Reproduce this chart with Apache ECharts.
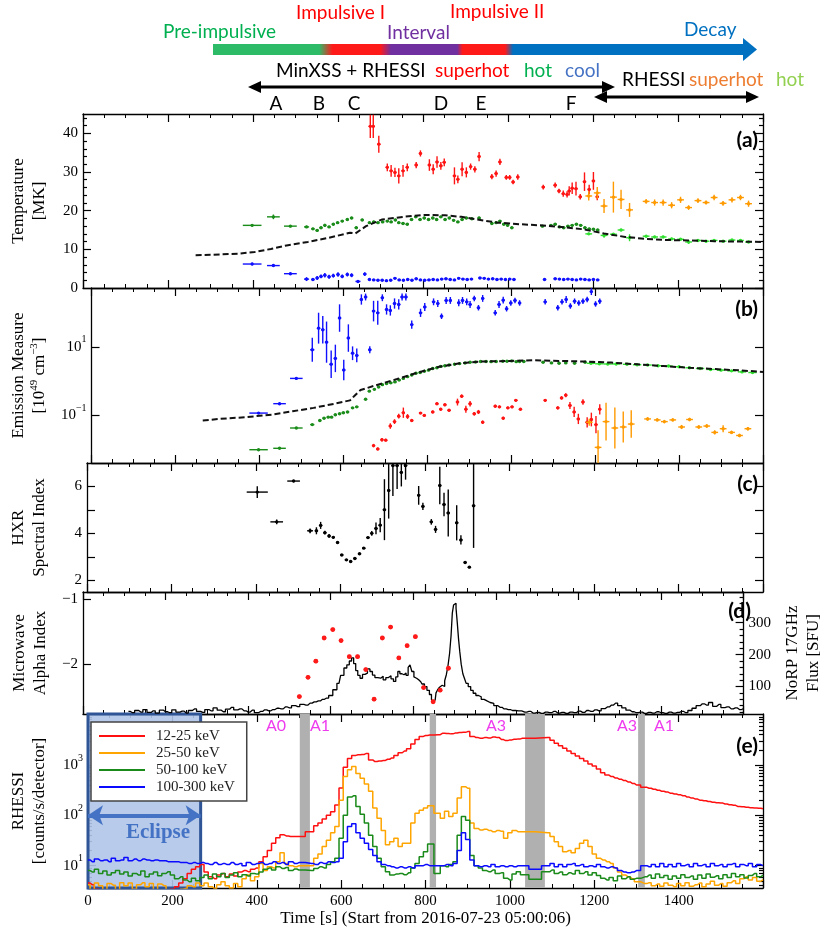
<!DOCTYPE html>
<html>
<head>
<meta charset="utf-8">
<script src="https://cdn.jsdelivr.net/npm/echarts@6.0.0/dist/echarts.min.js"></script>
<style>
  html, body { margin: 0; padding: 0; background: #fff; }
  #chart { width: 832px; height: 928px; }
</style>
</head>
<body>
<div id="chart"></div>
<script>
// ===== data =====
// time axis ticks (s)
var timeTicks = [0, 200, 400, 600, 800, 1000, 1200, 1400];

// (a) temperature [t, MK, dt, dMK]
var tempSuperhot = [[676,41.8,4,3.0],[683,41.8,4,3.0],[696,37.2,4,2.2],[716,31.2,4,1.0],[725,30.3,4,1.5],[734,29.9,4,1.2],[743,29.0,4,2.0],[753,30.3,4,1.5],[763,31.2,4,1.0],[784,31.8,4,0.8],[794,34.8,4,0.8],[815,31.8,4,1.5],[824,30.7,4,1.3],[833,32.6,4,1.5],[842,31.6,4,1.0],[850,32.5,4,1.0],[874,29.0,4,2.2],[882,28.1,4,1.0],[892,30.7,4,1.8],[902,29.9,4,1.3],[912,31.4,4,0.8],[922,30.7,4,0.8],[932,34.0,4,1.2],[962,28.8,4,0.7],[972,29.6,4,0.8],[981,32.6,4,0.8],[996,28.6,4,0.6],[1004,28.6,4,0.6],[1012,27.4,4,0.6],[1023,28.7,4,0.7],[1083,26.1,4,0.6],[1111,26.6,4,0.7],[1120,25.1,4,0.6],[1130,24.4,4,0.8],[1139,24.2,4,0.8],[1144,25.1,4,1.2],[1151,25.8,4,1.5],[1160,25.7,4,1.8],[1170,23.6,4,0.7],[1180,27.5,4,2.4],[1191,25.5,4,1.2],[1201,27.7,4,2.3],[1210,23.6,4,0.9]];
var tempSuperhotR = [[1190,23.8,8,1.2],[1210,24.6,8,1.5],[1226,21.2,8,1.8],[1248,23.5,8,4.0],[1266,22.9,8,2.5],[1286,20.2,8,1.8],[1325,22.4,8,0.6],[1345,22.1,8,0.8],[1365,22.1,8,0.8],[1385,21.4,8,0.8],[1406,22.8,8,0.8],[1425,20.8,8,0.6],[1447,22.6,8,0.6],[1466,22.1,8,0.5],[1485,23.4,8,0.7],[1506,21.9,8,0.6],[1527,22.8,8,0.7],[1547,23.4,8,0.7],[1566,21.8,8,0.8]];
var tempHot = [[398,16.2,22,0.3],[448,18.4,15,0.6],[488,16.0,15,0.3],[526,15.8,6,0.3],[541,15.3,4,0.3],[551,14.9,4,0.3],[560,15.6,4,0.3],[569,16.2,4,0.4],[579,15.8,4,0.3],[589,16.5,4,0.3],[599,16.9,4,0.3],[610,17.3,4,0.3],[622,17.7,4,0.3],[632,18.1,4,0.3],[643,15.6,4,0.3],[657,17.6,4,0.3],[674,16.9,4,0.3],[684,17.1,4,0.3],[694,16.9,4,0.3],[705,17.1,4,0.3],[716,17.3,4,0.3],[725,17.1,4,0.3],[735,17.6,4,0.3],[743,16.9,4,0.3],[753,16.7,4,0.3],[763,16.5,4,0.3],[773,17.7,4,0.3],[783,18.4,4,0.3],[793,17.7,4,0.3],[803,18.1,4,0.3],[813,17.7,4,0.3],[823,18.1,4,0.3],[832,17.7,4,0.3],[842,18.4,4,0.3],[852,17.7,4,0.3],[862,18.1,4,0.3],[872,17.5,4,0.3],[882,17.1,4,0.3],[892,17.7,4,0.3],[902,18.1,4,0.3],[915,17.9,4,0.3],[932,18.1,4,0.3],[962,16.7,4,0.3],[972,16.9,4,0.3],[981,17.3,4,0.3],[990,16.5,4,0.3],[999,16.2,4,0.3],[1009,15.6,4,0.3],[1081,16.0,4,0.3],[1101,16.2,4,0.3],[1111,16.5,4,0.3],[1121,15.8,4,0.3],[1131,15.6,4,0.3],[1141,16.0,4,0.3],[1151,16.2,4,0.3],[1161,16.5,4,0.3],[1171,16.2,4,0.3],[1181,15.6,4,0.3],[1191,15.3,4,0.3],[1201,15.2,4,0.3],[1211,15.0,4,0.3]];
var tempHotR = [[1190,14.0,8,0.3],[1226,13.6,8,0.6],[1248,13.9,8,0.3],[1266,15.0,8,0.3],[1286,13.0,8,0.9],[1325,13.4,8,0.3],[1345,13.2,8,0.3],[1365,13.2,8,0.3],[1385,12.7,8,0.3],[1406,12.6,8,0.3],[1425,11.9,8,0.5],[1447,12.3,8,0.3],[1466,12.1,8,0.3],[1485,12.3,8,0.3],[1506,12.1,8,0.3],[1527,12.4,8,0.3],[1547,12.3,8,0.3],[1566,11.9,8,0.3]];
var tempCool = [[398,6.2,22,0.3],[448,5.8,15,0.3],[488,3.7,15,0.3],[526,2.3,6,0.5],[541,2.2,4,0.3],[551,2.6,4,0.5],[560,3.0,4,0.5],[569,3.3,4,0.6],[579,2.9,4,0.5],[589,3.2,4,0.5],[600,3.5,4,0.6],[610,3.0,4,0.5],[622,3.5,4,0.5],[632,3.3,4,0.5],[647,1.7,6,0.2],[663,3.6,4,0.5],[674,2.2,4,0.2],[684,2.1,4,0.1],[694,2.0,4,0.1],[704,2.0,4,0.1],[714,1.9,4,0.1],[724,2.0,4,0.1],[734,2.5,4,0.1],[744,2.1,4,0.1],[754,2.0,4,0.1],[764,2.2,4,0.1],[774,2.0,4,0.1],[784,2.4,4,0.1],[794,2.1,4,0.1],[804,2.0,4,0.1],[814,2.1,4,0.1],[824,2.2,4,0.1],[834,2.1,4,0.1],[844,2.3,4,0.1],[854,2.4,4,0.1],[864,2.2,4,0.1],[874,2.1,4,0.1],[884,2.5,4,0.1],[894,2.3,4,0.1],[904,2.2,4,0.1],[914,2.3,4,0.1],[934,2.6,4,0.1],[944,2.5,4,0.1],[954,2.3,4,0.1],[964,2.4,4,0.1],[974,2.2,4,0.1],[984,2.3,4,0.1],[994,2.2,4,0.1],[1004,2.3,4,0.1],[1014,2.2,4,0.1],[1086,2.2,4,0.1],[1111,2.4,4,0.1],[1121,2.3,4,0.1],[1131,2.2,4,0.1],[1141,2.3,4,0.1],[1151,2.2,4,0.1],[1161,2.1,4,0.1],[1171,2.3,4,0.1],[1181,2.2,4,0.1],[1191,2.1,4,0.1],[1201,2.2,4,0.1],[1211,2.1,4,0.1]];
var tempModel = [[265,8.5],[305,8.6],[367,8.9],[404,9.3],[442,10.1],[479,11.0],[529,11.9],[579,13.0],[628,14.3],[641,14.1],[666,16.0],[703,17.7],[753,18.4],[803,18.9],[852,18.8],[890,18.4],[927,17.7],[977,16.9],[1027,16.5],[1076,16.2],[1126,15.8],[1176,15.2],[1226,14.1],[1276,13.2],[1325,12.7],[1375,12.4],[1425,12.3],[1487,12.1],[1549,12.0],[1600,11.9]];

// (b) emission measure [t, 1e49 cm^-3, dt, error in dex]
var emCool = [[398,0.117,22,0.02],[448,0.22,15,0.03],[488,1.2,15,0.04],[526,8.2,5,0.35],[541,35,4,0.45],[551,31.6,4,0.4],[560,13.7,4,0.6],[571,3.1,4,0.4],[581,4.6,4,0.4],[591,69,4,0.4],[601,2.1,4,0.3],[612,18,4,0.4],[622,6.5,4,0.2],[632,5.6,4,0.2],[643,240,4,0.15],[653,283,4,0.1],[663,8.2,4,0.1],[672,110,4,0.3],[682,98,4,0.35],[693,270,4,0.1],[703,123,4,0.15],[712,115,4,0.15],[722,183,4,0.15],[732,172,4,0.15],[740,283,4,0.1],[749,283,4,0.1],[763,44.5,4,0.12],[784,98,4,0.12],[794,145,4,0.12],[815,205,4,0.1],[825,183,4,0.1],[834,78,4,0.08],[845,225,4,0.1],[855,225,4,0.1],[875,193,4,0.1],[884,225,4,0.1],[894,205,4,0.1],[902,172,4,0.1],[912,258,4,0.08],[922,138,4,0.08],[932,258,4,0.1],[962,98,4,0.08],[971,172,4,0.1],[981,229,4,0.1],[989,129,4,0.08],[999,190,4,0.08],[1009,225,4,0.08],[1020,190,4,0.08],[1081,205,4,0.08],[1111,138,4,0.08],[1121,205,4,0.08],[1131,240,4,0.1],[1141,155,4,0.08],[1151,214,4,0.08],[1161,190,4,0.08],[1171,214,4,0.08],[1181,240,4,0.08],[1191,407,4,0.1],[1201,178,4,0.08],[1211,214,4,0.08]];
var emHot = [[398,0.010,22,0.02],[448,0.011,15,0.02],[488,0.043,15,0.02],[526,0.054,5,0.02],[544,0.071,4,0.02],[554,0.083,4,0.02],[564,0.089,4,0.02],[572,0.089,4,0.02],[581,0.105,4,0.02],[591,0.112,4,0.02],[600,0.12,4,0.02],[610,0.126,4,0.02],[622,0.166,4,0.02],[632,0.178,4,0.02],[653,0.295,4,0.02],[662,0.51,4,0.02],[674,0.575,4,0.02],[684,0.676,4,0.02],[693,0.79,4,0.02],[703,0.85,4,0.02],[713,0.89,4,0.02],[723,0.95,4,0.02],[733,1.07,4,0.02],[743,1.2,4,0.02],[753,1.35,4,0.02],[763,1.51,4,0.02],[773,1.7,4,0.02],[783,1.78,4,0.02],[793,1.95,4,0.02],[803,2.09,4,0.02],[813,2.34,4,0.02],[823,2.45,4,0.02],[832,2.69,4,0.02],[842,2.82,4,0.02],[852,2.95,4,0.02],[865,3.09,4,0.02],[877,3.24,4,0.02],[890,3.39,4,0.02],[902,3.55,4,0.02],[915,3.6,4,0.02],[927,3.72,4,0.02],[940,3.75,4,0.02],[952,3.7,4,0.02],[964,3.72,4,0.02],[980,3.8,4,0.02],[990,3.8,4,0.02],[1001,3.89,4,0.02],[1012,3.7,4,0.02],[1020,3.75,4,0.02],[1030,3.72,4,0.02],[1076,3.55,4,0.02],[1096,3.4,4,0.02],[1114,3.31,4,0.02],[1130,3.4,4,0.02],[1151,3.31,4,0.02],[1176,3.55,4,0.02],[1195,3.5,4,0.02],[1211,3.47,4,0.02]];
var emHotR = [[1190,3.31,10,0.01],[1210,3.2,10,0.01],[1230,3.16,10,0.01],[1250,3.16,10,0.01],[1276,3.09,10,0.01],[1300,3.0,10,0.01],[1325,2.95,10,0.01],[1350,2.82,10,0.01],[1375,2.75,10,0.01],[1400,2.63,10,0.01],[1425,2.45,10,0.01],[1450,2.34,10,0.01],[1475,2.19,10,0.01],[1500,2.09,10,0.01],[1525,1.99,10,0.01],[1550,1.86,10,0.01],[1575,1.78,10,0.01]];
var emSuperhot = [[672,0.0132,4,0.05],[682,0.0105,4,0.04],[692,0.0195,4,0.05],[701,0.019,4,0.04],[712,0.049,4,0.08],[722,0.066,4,0.07],[732,0.095,4,0.07],[743,0.12,4,0.15],[753,0.093,4,0.07],[763,0.071,4,0.04],[784,0.117,4,0.03],[793,0.1,4,0.03],[813,0.126,4,0.04],[823,0.219,4,0.04],[832,0.151,4,0.04],[842,0.204,4,0.04],[852,0.141,4,0.04],[872,0.245,4,0.1],[882,0.363,4,0.05],[892,0.151,4,0.1],[902,0.219,4,0.08],[912,0.112,4,0.05],[922,0.126,4,0.06],[932,0.063,4,0.05],[962,0.186,4,0.04],[972,0.178,4,0.04],[981,0.083,4,0.04],[992,0.166,4,0.04],[1002,0.178,4,0.04],[1011,0.275,4,0.03],[1022,0.151,4,0.04],[1081,0.275,4,0.04],[1111,0.166,4,0.05],[1120,0.324,4,0.05],[1130,0.389,4,0.06],[1140,0.195,4,0.1],[1150,0.126,4,0.15],[1160,0.079,4,0.15],[1171,0.245,4,0.08],[1181,0.063,4,0.15],[1191,0.076,4,0.2],[1202,0.054,4,0.25],[1211,0.151,4,0.15]];
var emSuperhotR = [[1186,0.063,8,0.1],[1207,0.0117,8,0.5],[1226,0.066,8,0.55],[1247,0.043,8,0.6],[1267,0.046,8,0.45],[1286,0.056,8,0.4],[1325,0.079,8,0.05],[1348,0.074,8,0.05],[1365,0.066,8,0.05],[1385,0.074,8,0.05],[1406,0.046,8,0.06],[1425,0.076,8,0.05],[1447,0.046,8,0.05],[1466,0.049,8,0.05],[1485,0.032,8,0.06],[1505,0.041,8,0.1],[1525,0.032,8,0.05],[1544,0.026,8,0.05],[1564,0.041,8,0.05]];
var emModel = [[265,0.071],[305,0.079],[367,0.089],[429,0.105],[479,0.132],[529,0.166],[579,0.219],[616,0.275],[628,0.389],[641,0.55],[678,0.76],[728,1.15],[778,1.78],[828,2.63],[877,3.31],[927,3.72],[1001,3.89],[1051,4.07],[1114,3.89],[1176,3.72],[1238,3.47],[1300,3.09],[1363,2.75],[1425,2.45],[1487,2.24],[1549,2.04],[1600,1.86]];

// (c) HXR spectral index [t, gamma, dt, dgamma]
var hxrIndex = [[403,5.76,25,0.25],[449,4.49,15,0.1],[489,6.23,15,0.05],[528,4.11,7,0.1],[543,4.11,4,0.15],[553,4.34,4,0.15],[563,4.03,4,0.08],[573,3.89,4,0.08],[583,3.83,4,0.06],[593,3.61,4,0.06],[603,3.08,4,0.04],[614,2.87,4,0.04],[624,2.80,4,0.04],[634,2.93,4,0.04],[645,3.13,4,0.04],[655,3.37,4,0.04],[665,3.82,4,0.05],[674,4.0,4,0.1],[684,4.21,4,0.25],[694,4.35,4,0.3],[704,5.01,4,1.3],[714,5.83,4,1.2],[724,6.89,4,1.3],[734,6.89,4,1.0],[744,6.6,4,0.6],[754,6.89,4,0.6],[785,5.62,4,0.4],[795,5.15,4,0.15],[815,4.49,4,0.12],[825,4.17,4,0.15],[835,6.04,4,0.8],[845,5.23,4,0.5],[855,4.87,4,1.0],[875,4.45,4,0.75],[885,3.72,4,0.2],[895,2.76,4,0.05],[905,2.56,4,0.05],[915,5.18,4,1.8]];

// (d) microwave alpha index [t, alpha, dt, dalpha] and NoRP 17 GHz flux [t, SFU]
var alphaIndex = [[524,-2.51,5,0.03],[545,-2.21,5,0.03],[564,-1.96,5,0.03],[584,-1.60,5,0.03],[605,-1.47,5,0.03],[625,-1.64,5,0.03],[645,-1.89,5,0.03],[665,-1.89,5,0.03],[685,-2.09,5,0.03],[705,-2.55,5,0.03],[725,-1.60,5,0.03],[745,-1.43,5,0.03],[765,-1.91,5,0.03],[785,-1.72,5,0.03],[805,-1.58,5,0.03],[825,-2.37,5,0.03],[848,-2.59,5,0.03],[865,-2.41,5,0.03],[885,-2.07,5,0.03]];
var norpFlux = [[110,22],[120,18],[130,25],[140,20],[150,28],[160,19],[170,24],[180,17],[190,26],[200,21],[210,18],[220,27],[230,20],[240,23],[250,17],[260,25],[270,30],[280,22],[290,19],[300,28],[310,24],[320,33],[330,26],[340,21],[350,29],[360,35],[370,27],[380,30],[390,24],[400,20],[410,26],[420,18],[430,22],[440,27],[450,24],[460,28],[470,32],[480,30],[490,36],[500,33],[510,40],[520,37],[530,44],[540,42],[550,48],[560,52],[570,55],[580,60],[590,64],[600,72],[610,90],[620,110],[628,135],[636,158],[642,168],[648,180],[653,190],[658,172],[663,150],[668,135],[674,126],[680,138],[686,142],[692,155],[698,147],[704,136],[710,128],[718,126],[724,132],[730,121],[737,128],[743,134],[749,124],[755,116],[760,130],[765,147],[770,140],[775,137],[780,142],[785,135],[790,160],[794,168],[799,147],[804,130],[808,126],[813,121],[818,115],[824,108],[830,100],[836,88],[842,75],[846,60],[849,52],[853,58],[857,80],[861,90],[866,98],[870,104],[874,100],[878,118],[882,137],[886,165],[890,205],[893,260],[896,330],[899,355],[902,361],[905,345],[908,300],[911,250],[914,210],[918,170],[922,140],[926,125],[930,110],[936,100],[942,88],[948,79],[955,72],[961,68],[968,60],[975,55],[982,50],[990,47],[1000,40],[1010,35],[1020,30],[1030,28],[1040,25],[1055,24],[1070,20],[1080,22],[1090,17],[1100,19],[1110,16],[1120,20],[1130,18],[1140,22],[1150,17],[1160,19],[1170,16],[1180,20],[1190,18],[1200,23],[1210,19],[1220,25],[1230,22],[1240,27],[1250,24],[1260,31],[1270,36],[1280,42],[1290,48],[1300,40],[1310,33],[1320,26],[1330,21],[1340,18],[1350,20],[1360,16],[1370,19],[1380,17],[1390,21],[1400,18],[1410,16],[1420,20],[1430,17],[1440,19],[1450,22],[1460,18],[1470,25],[1480,32],[1490,40],[1500,46],[1510,42],[1520,50],[1530,38],[1540,44],[1550,34],[1560,36],[1570,30],[1580,33],[1590,28],[1600,31]];

// (e) RHESSI count rates, 10 s bins; null inside the attenuator gaps
var rhessiTime = [0,10,20,30,40,50,60,70,80,90,100,110,120,130,140,150,160,170,180,190,200,210,220,230,240,250,260,270,280,290,300,310,320,330,340,350,360,370,380,390,400,410,420,430,440,450,460,470,480,490,500,510,520,530,540,550,560,570,580,590,600,610,620,630,640,650,660,670,680,690,700,710,720,730,740,750,760,770,780,790,800,810,820,830,840,850,860,870,880,890,900,910,920,930,940,950,960,970,980,990,1000,1010,1020,1030,1040,1050,1060,1070,1080,1090,1100,1110,1120,1130,1140,1150,1160,1170,1180,1190,1200,1210,1220,1230,1240,1250,1260,1270,1280,1290,1300,1310,1320,1330,1340,1350,1360,1370,1380,1390,1400,1410,1420,1430,1440,1450,1460,1470,1480,1490,1500,1510,1520,1530,1540,1550,1560,1570,1580,1590,1600];
var rhessi12 = [4.5,4.2,3.4,3.2,3.0,3.1,2.9,3.0,3.2,3.0,
  2.9,3.1,3.0,2.8,3.0,3.1,2.9,3.0,3.2,3.1,
  3.4,3.8,4.5,5.5,7.0,8.5,9.5,10.5,7.5,6.0,
  5.5,6.5,7.0,6.0,6.8,6.2,7.5,8.0,7.6,8.5,
  9.0,12,15,20,28,36,41,39,38,38,
  38,null,null,47,62,70,85,100,118,160,
  350,900,1350,1550,1600,1620,1700,1260,1170,1200,
  1230,1300,1380,1550,1750,1900,2100,2600,3200,3700,
  3850,3950,null,4000,4250,4200,4150,4300,4400,4450,
  4600,3700,3500,3400,3500,3450,3600,3500,3200,3050,
  3150,3250,3300,3400,null,null,null,null,null,3500,
  3100,2700,2400,2150,1900,1700,1500,1350,1200,1050,
  950,830,700,630,590,550,520,490,460,430,
  400,null,360,345,330,315,300,290,275,265,
  255,245,230,220,210,200,195,188,182,178,
  175,168,162,158,150,148,145,142,140,138,
  135];
var rhessi25 = [4.2,3.2,4.5,4.0,3.0,4.4,4.1,3.3,4.6,4.0,
  4.5,3.4,4.2,4.6,3.8,4.4,3.1,4.3,4.0,3.3,
  3.0,3.2,3.4,3.5,4.0,3.8,4.5,4.0,4.5,3.8,
  3.5,4.2,4.8,4.0,3.6,4.4,3.8,5.5,6.5,5.0,
  6.0,11,8.0,9.5,9.0,12,18,11,10,9.5,
  10,null,null,10,14,17,24,32,45,60,
  200,590,800,930,680,545,420,300,140,87,
  50,26,30,35,24,28,28,70,110,126,
  140,155,null,110,87,120,95,110,220,370,
  345,70,55,51,53,50,47,50,48,35,
  45,50,47,47,null,null,null,null,null,45,
  38,30,24,19,20,18,22,28,32,24,
  17,14,13,12,11,9.0,7.5,6.5,6.0,5.5,
  4.8,null,4.4,4.6,4.0,4.3,3.9,4.5,4.1,3.8,
  4.4,4.0,4.6,3.9,4.2,4.5,3.8,4.3,4.9,4.1,
  4.4,3.9,4.6,5.0,4.4,5.5,6.0,5.2,5.8,4.9,
  5.3];
var rhessi50 = [8.0,7.5,8.5,7.0,7.8,6.5,7.2,8.0,6.8,7.5,
  6.2,7.0,6.5,7.8,6.0,6.8,7.5,6.3,7.0,7.6,
  6.5,5.5,6.0,5.2,4.8,5.6,5.0,5.8,6.5,5.5,
  6.8,6.0,7.0,5.8,6.5,7.2,6.0,6.6,6.2,7.0,
  6.8,7.5,8.5,9.0,8.2,9.5,8.8,9.2,8.0,8.6,
  8.2,null,null,8.0,8.8,9.5,9.0,10.5,12,14,
  35,100,230,245,150,105,70,40,24,14,
  9.5,7.6,6.5,6.8,7.0,6.6,7.2,9.0,11,15,
  19,27,null,7.0,10,9.5,10.5,12,40,95,
  80,16,10,9.0,8.0,7.6,8.2,7.0,7.2,5.6,
  5.2,6.8,7.6,6.6,null,null,5.4,null,null,7.6,
  8.2,7.0,7.5,6.6,7.2,6.8,8.0,7.0,7.6,6.5,
  7.2,6.4,5.6,5.2,5.8,5.0,6.2,5.5,6.0,5.4,
  5.6,null,6.0,6.5,5.6,6.8,5.8,6.4,5.4,6.2,
  5.6,6.6,5.8,6.2,5.4,6.5,5.6,6.8,5.9,6.3,
  5.5,6.6,5.8,7.0,6.0,6.6,5.7,6.4,7.0,6.0,
  6.5];
var rhessi100 = [13,12,13.5,12.5,13,12,14,12.5,13,14.5,
  12.5,13.5,12.5,13.5,13,12.5,13,12.5,12.5,12,
  12,12,11.5,11.5,11,11.5,11,11.5,11,10.5,
  11.5,10.5,11,10.5,11.5,10.5,11,10,11.5,10.5,
  11,11.5,10.5,11,12,11,11.5,10.5,12,11,
  11.5,null,null,11,10.5,11.5,11,12,11.5,12,
  14,30,60,68,45,35,28,21,16,12,
  10.5,10,9.5,9,9.5,9,9.5,9,10,10,
  10.5,10,null,10,10,10.5,10,11,20,45,
  33,13,10,9.5,10,9.5,10.5,9.5,10,9.5,
  10,9.5,10,10,null,null,8.5,null,null,10,
  11,9.5,10.5,9.5,10.5,11,10,10.5,9.5,10,
  9.5,10.5,9.5,9,9.5,9,8,7.5,7.2,7.5,
  8,null,10,9.5,10.5,9.5,11,9.5,10.5,9.5,
  11,10,10.5,9.5,11,10,10.5,9.5,11,10,
  10.5,9.5,10.5,11,9.5,10.5,10,11,9.5,10.5,
  10];
var rhessiNames = ['12-25 keV', '25-50 keV', '50-100 keV', '100-300 keV'];
var rhessiColors = ['#ff1010', '#ffa500', '#1a8a1a', '#0a0aff'];

// attenuator / gap intervals and eclipse (s)
var gapBands = [[502, 526], [810, 825], [1036, 1083], [1304, 1320]];
var eclipseSpan = [0, 267];

// ===== chart =====
var SERIF = 'Liberation Serif';
var SANS = 'Lato';
var myChart = echarts.init(document.getElementById('chart'));

// error-bar cross renderer, linear or log y
function errRender(logY, dot, lw) {
  return function (params, api) {
    var t = api.value(0), v = api.value(1), dt = api.value(2), dv = api.value(3);
    var lo = logY ? v / Math.pow(10, dv) : v - dv;
    var hi = logY ? v * Math.pow(10, dv) : v + dv;
    var c = api.coord([t, v]);
    var pl = api.coord([t - dt, v]);
    var pr = api.coord([t + dt, v]);
    var pb = api.coord([t, lo]);
    var pt = api.coord([t, hi]);
    var color = api.visual('color');
    var st = { stroke: color, lineWidth: lw || 1.4 };
    return {
      type: 'group',
      children: [
        { type: 'line', shape: { x1: pl[0], y1: c[1], x2: pr[0], y2: c[1] }, style: st },
        { type: 'line', shape: { x1: c[0], y1: pb[1], x2: c[0], y2: pt[1] }, style: st },
        { type: 'circle', shape: { cx: c[0], cy: c[1], r: dot || 1.7 }, style: { fill: color } }
      ]
    };
  };
}

function errSeries(data, color, xi, yi, logY, dot, lw) {
  return {
    type: 'custom', xAxisIndex: xi, yAxisIndex: yi, data: data, clip: true, z: 3,
    encode: { x: 0, y: 1 }, itemStyle: { color: color },
    renderItem: errRender(logY, dot, lw), silent: true
  };
}

var grids = [
  { top: 114, height: 174 },
  { top: 288, height: 175 },
  { top: 463, height: 129 },
  { top: 592, height: 122 },
  { top: 714, height: 174 }
];

var lineStyleAx = { color: '#000', width: 1.3 };
var tickStyle = { color: '#000', width: 1.2 };

function xAxisFor(g, pos) {
  var withLabels = (g === 4 && pos === 'bottom');
  var ax = {
    type: 'value', gridIndex: g, position: pos, min: 0, max: 1600, interval: 200,
    axisLine: { show: true, onZero: false, lineStyle: lineStyleAx },
    axisTick: { show: true, inside: true, length: 8, lineStyle: tickStyle },
    minorTick: { show: true, splitNumber: 4, length: 4, lineStyle: { color: '#000', width: 1 } },
    axisLabel: {
      show: withLabels, customValues: timeTicks, formatter: function (v) { return String(v); },
      fontFamily: SERIF, fontSize: 15, color: '#000', margin: 6
    },
    splitLine: { show: false }
  };
  if (withLabels) {
    ax.name = 'Time [s] (Start from 2016-07-23 05:00:06)';
    ax.nameLocation = 'middle';
    ax.nameGap = 21;
    ax.nameTextStyle = { fontFamily: SERIF, fontSize: 17, color: '#000' };
  }
  return ax;
}

function yAxisFor(g, pos, o) {
  var ax = {
    type: o.log ? 'log' : 'value', gridIndex: g, position: pos, min: o.min, max: o.max,
    axisLine: { show: o.line !== false, onZero: false, lineStyle: lineStyleAx },
    axisTick: { show: true, inside: true, length: o.len || 8, customValues: o.ticks, lineStyle: tickStyle },
    axisLabel: { show: false },
    splitLine: { show: false }
  };
  if (o.log) ax.logBase = 10;
  if (o.labels) {
    ax.axisLabel = {
      show: true, customValues: o.labels, formatter: o.fmt || function (v) { return String(v); }, rich: o.rich,
      fontFamily: SERIF, fontSize: 15, color: '#000', margin: 5
    };
  }
  if (o.name) {
    ax.name = o.name;
    ax.nameLocation = 'middle';
    ax.nameRotate = 90;
    ax.nameGap = o.gap;
    ax.nameTextStyle = { fontFamily: SERIF, fontSize: 17, lineHeight: 21, color: '#000', rich: o.nameRich };
  }
  return ax;
}

var powRich = {
  b: { fontFamily: SERIF, fontSize: 15, lineHeight: 24, color: '#000' },
  e: { fontFamily: SERIF, fontSize: 10, lineHeight: 11, verticalAlign: 'top', color: '#000' }
};
function powLabel(v) {
  var e = Math.round(Math.log(v) / Math.LN10);
  return '{b|10}{e|' + (e < 0 ? '\u2212' + (-e) : e) + '}';
}
function minusLabel(v) { return String(v).replace('-', '\u2212'); }

var tMinor = [2, 4, 6, 8, 12, 14, 16, 18, 22, 24, 26, 28, 32, 34, 36, 38, 42, 44];
var eMinor = [4, 5, 6, 7, 8, 9, 20, 30, 40, 50, 60, 70, 80, 90, 200, 300, 400, 500, 600, 700, 800, 900, 2000, 3000, 4000, 5000, 6000, 7000, 8000, 9000];
var fluxMinor = [20, 40, 60, 80, 120, 140, 160, 180, 220, 240, 260, 280, 320, 340, 360, 380];

var xAxes = [];
for (var g = 0; g < 5; g++) {
  xAxes.push(xAxisFor(g, 'bottom'));
  xAxes.push(xAxisFor(g, 'top'));
}

var yAxes = [
  // 0-3: (a)
  yAxisFor(0, 'left', { min: 0, max: 45, ticks: [0, 10, 20, 30, 40], labels: [0, 10, 20, 30, 40], name: 'Temperature\n[MK]', gap: 33 }),
  yAxisFor(0, 'right', { min: 0, max: 45, ticks: [0, 10, 20, 30, 40] }),
  yAxisFor(0, 'left', { min: 0, max: 45, ticks: tMinor, len: 4, line: false }),
  yAxisFor(0, 'right', { min: 0, max: 45, ticks: tMinor, len: 4, line: false }),
  // 4,5: (b)
  yAxisFor(1, 'left', { log: true, min: 0.0041, max: 519, ticks: [0.1, 10], labels: [0.1, 10], fmt: powLabel, rich: powRich,
    name: 'Emission Measure\n[10{s|49} cm{s|\u22123}]', gap: 36,
    nameRich: { s: { fontFamily: SERIF, fontSize: 11, lineHeight: 11, verticalAlign: 'top', color: '#000' } } }),
  yAxisFor(1, 'right', { log: true, min: 0.0041, max: 519, ticks: [0.1, 10] }),
  // 6,7: (c)
  yAxisFor(2, 'left', { min: 1.5, max: 7, ticks: [2, 3, 4, 5, 6], labels: [2, 4, 6], name: 'HXR\nSpectral Index', gap: 37 }),
  yAxisFor(2, 'right', { min: 1.5, max: 7, ticks: [2, 3, 4, 5, 6] }),
  // 8: (d) alpha, 9,10: (d) NoRP flux
  yAxisFor(3, 'left', { min: -2.78, max: -0.886, ticks: [-2, -1], labels: [-2, -1], fmt: minusLabel, name: 'Microwave\nAlpha Index', gap: 32 }),
  yAxisFor(3, 'right', { min: 14, max: 396, ticks: [100, 200, 300], labels: [100, 200, 300], name: 'NoRP 17GHz\nFlux [SFU]', gap: 29 }),
  yAxisFor(3, 'right', { min: 14, max: 396, ticks: fluxMinor, len: 4, line: false }),
  // 11-14: (e)
  yAxisFor(4, 'left', { log: true, min: 3.6, max: 10300, ticks: [10, 100, 1000], labels: [10, 100, 1000], fmt: powLabel, rich: powRich,
    name: 'RHESSI\n[counts/s/detector]', gap: 38 }),
  yAxisFor(4, 'left', { log: true, min: 3.6, max: 10300, ticks: eMinor, len: 4, line: false }),
  yAxisFor(4, 'right', { log: true, min: 3.6, max: 10300, ticks: [10, 100, 1000] }),
  yAxisFor(4, 'right', { log: true, min: 3.6, max: 10300, ticks: eMinor, len: 4, line: false })
];

var C_RED = '#ff1414', C_ORANGE = '#ff9a00', C_GREEN = '#1a8c1a', C_LGREEN = '#2fe02f', C_BLUE = '#1010ff';

var dashed = function (data, xi, yi) {
  return {
    type: 'line', xAxisIndex: xi, yAxisIndex: yi, data: data, showSymbol: false, symbol: 'none',
    lineStyle: { color: '#111', width: 2, type: [6, 3] }, z: 4, silent: true
  };
};

var series = [
  // (a)
  errSeries(tempHot, C_GREEN, 0, 0, false),
  errSeries(tempHotR, C_LGREEN, 0, 0, false),
  errSeries(tempSuperhot, C_RED, 0, 0, false),
  errSeries(tempSuperhotR, C_ORANGE, 0, 0, false),
  errSeries(tempCool, C_BLUE, 0, 0, false),
  dashed(tempModel, 0, 0),
  // (b)
  errSeries(emCool, C_BLUE, 2, 4, true),
  errSeries(emHot, C_GREEN, 2, 4, true),
  errSeries(emHotR, C_LGREEN, 2, 4, true),
  errSeries(emSuperhot, C_RED, 2, 4, true),
  errSeries(emSuperhotR, C_ORANGE, 2, 4, true),
  dashed(emModel, 2, 4),
  // (c)
  errSeries(hxrIndex, '#000', 4, 6, false),
  // (d)
  {
    type: 'line', xAxisIndex: 6, yAxisIndex: 9, data: norpFlux, step: 'middle', showSymbol: false, symbol: 'none',
    lineStyle: { color: '#000', width: 1.3 }, z: 2, silent: true
  },
  errSeries(alphaIndex, '#ff1a1a', 6, 8, false, 2.4, 2),
  // (e) gap bands and eclipse box
  {
    type: 'line', xAxisIndex: 8, yAxisIndex: 11, data: [], z: 1, silent: true,
    markArea: {
      silent: true, itemStyle: { color: '#b0b0b0' },
      data: gapBands.map(function (b) { return [{ xAxis: b[0] }, { xAxis: b[1] }]; })
    }
  },
  {
    type: 'line', xAxisIndex: 8, yAxisIndex: 11, data: [], z: 1, silent: true,
    markArea: {
      silent: true, itemStyle: { color: 'rgba(176,197,232,0.9)', borderColor: '#2f5597', borderWidth: 3 },
      data: [[{ xAxis: eclipseSpan[0] }, { xAxis: eclipseSpan[1] }]]
    },
    markLine: {
      silent: true, symbol: ['arrow', 'arrow'], symbolSize: [15, 15],
      lineStyle: { color: '#4472c4', width: 4, type: 'solid' },
      label: { show: false },
      data: [[{ coord: [eclipseSpan[0], 100] }, { coord: [eclipseSpan[1], 100] }]]
    }
  }
];

[rhessi12, rhessi25, rhessi50, rhessi100].forEach(function (arr, k) {
  series.push({
    name: rhessiNames[k], type: 'line', xAxisIndex: 8, yAxisIndex: 11,
    data: rhessiTime.map(function (t, i) { return [t, arr[i]]; }),
    step: 'middle', connectNulls: true, showSymbol: false, symbol: 'none',
    lineStyle: { color: rhessiColors[k], width: 1.5 }, itemStyle: { color: rhessiColors[k] },
    z: 3, silent: true
  });
});

// header and annotation text
function txt(x, y, s, color, size, extra) {
  var o = {
    type: 'text', x: x, y: y, silent: true, z: 20,
    style: {
      text: s, fill: color, fontFamily: (extra && extra.family) || SANS, fontSize: size,
      fontWeight: (extra && extra.weight) || 'normal',
      align: (extra && extra.align) || 'left', textAlign: (extra && extra.align) || 'left',
      verticalAlign: 'middle', textVerticalAlign: 'middle'
    }
  };
  return o;
}
function dblArrow(x1, x2, y, w, head, half) {
  return [
    { type: 'line', silent: true, shape: { x1: x1 + head - 1, y1: y, x2: x2 - head + 1, y2: y }, style: { stroke: '#000', lineWidth: w } },
    { type: 'polygon', silent: true, shape: { points: [[x1, y], [x1 + head, y - half], [x1 + head, y + half]] }, style: { fill: '#000' } },
    { type: 'polygon', silent: true, shape: { points: [[x2, y], [x2 - head, y - half], [x2 - head, y + half]] }, style: { fill: '#000' } }
  ];
}

var graphics = [
  {
    type: 'rect', silent: true, shape: { x: 213, y: 44, width: 531, height: 11 },
    style: {
      fill: new echarts.graphic.LinearGradient(0, 0, 1, 0, [
        { offset: 0, color: '#2dbb68' }, { offset: 0.2, color: '#2dbb68' },
        { offset: 0.225, color: '#ff1a1a' }, { offset: 0.315, color: '#ff1a1a' },
        { offset: 0.335, color: '#7030a0' }, { offset: 0.46, color: '#7030a0' },
        { offset: 0.47, color: '#ff1a1a' }, { offset: 0.55, color: '#ff1a1a' },
        { offset: 0.565, color: '#0070c0' }, { offset: 1, color: '#0070c0' }
      ])
    }
  },
  { type: 'polygon', silent: true, shape: { points: [[743, 38], [757, 49.5], [743, 61]] }, style: { fill: '#0070c0' } },
  txt(163, 32, 'Pre-impulsive', '#00b050', 19),
  txt(296, 13, 'Impulsive I', '#ff0000', 19),
  txt(387, 33, 'Interval', '#7030a0', 19),
  txt(450, 12, 'Impulsive II', '#ff0000', 19),
  txt(684, 30, 'Decay', '#0070c0', 19),
  txt(276, 71, 'MinXSS + RHESSI', '#000', 19),
  txt(435, 71, 'superhot', '#ff0000', 19),
  txt(524, 71, 'hot', '#00b050', 19),
  txt(565, 71, 'cool', '#4472c4', 19),
  txt(622, 80, 'RHESSI', '#000', 19),
  txt(689, 80, 'superhot', '#ed7d31', 19),
  txt(776, 80, 'hot', '#92d050', 19),
  txt(276, 104, 'A', '#000', 19, { align: 'center' }),
  txt(319, 104, 'B', '#000', 19, { align: 'center' }),
  txt(354, 104, 'C', '#000', 19, { align: 'center' }),
  txt(441, 104, 'D', '#000', 19, { align: 'center' }),
  txt(481, 104, 'E', '#000', 19, { align: 'center' }),
  txt(571, 104, 'F', '#000', 19, { align: 'center' }),
  // panel tags
  txt(758, 140, '(a)', '#000', 21, { align: 'right', weight: 'bold' }),
  txt(758, 309, '(b)', '#000', 21, { align: 'right', weight: 'bold' }),
  txt(758, 484, '(c)', '#000', 21, { align: 'right', weight: 'bold' }),
  txt(751, 611, '(d)', '#000', 21, { align: 'right', weight: 'bold' }),
  txt(758, 746, '(e)', '#000', 21, { align: 'right', weight: 'bold' }),
  // attenuator labels
  txt(276, 726, 'A0', '#ee3bee', 16, { align: 'center' }),
  txt(320, 726, 'A1', '#ee3bee', 16, { align: 'center' }),
  txt(496, 726, 'A3', '#ee3bee', 16, { align: 'center' }),
  txt(627, 726, 'A3', '#ee3bee', 16, { align: 'center' }),
  txt(664, 726, 'A1', '#ee3bee', 16, { align: 'center' }),
  txt(158, 833, 'Eclipse', '#4472c4', 21, { align: 'center', weight: 'bold', family: SERIF })
].concat(dblArrow(248, 615, 87, 3, 13, 6)).concat(dblArrow(594, 759, 97, 3, 13, 6));

var option = {
  animation: false,
  backgroundColor: '#fff',
  grid: grids.map(function (g) { return { left: 83, right: 69, top: g.top, height: g.height }; }),
  xAxis: xAxes,
  yAxis: yAxes,
  legend: {
    data: rhessiNames, orient: 'vertical', left: 91, top: 722, z: 10,
    backgroundColor: '#fff', borderColor: '#444', borderWidth: 1.5, borderRadius: 0,
    padding: [6, 12, 6, 8], itemGap: 1, itemWidth: 46, itemHeight: 2, icon: 'rect',
    selectedMode: false,
    textStyle: { fontFamily: SERIF, fontSize: 15, lineHeight: 16, color: '#222', padding: [0, 0, 0, 6] }
  },
  graphic: graphics,
  series: series
};

myChart.setOption(option);
window.addEventListener('resize', function () { myChart.resize(); });
</script>
</body>
</html>
